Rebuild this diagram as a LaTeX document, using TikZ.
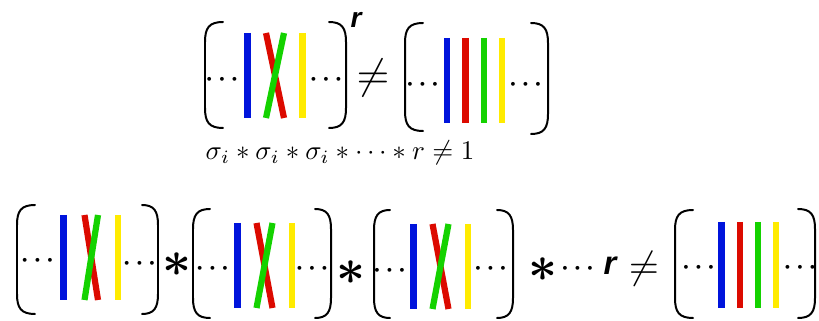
\documentclass[tikz,border=0pt]{standalone}
\usepackage{fontspec}
\newfontfamily\labelfont{Liberation Sans}
\definecolor{braidblue}{RGB}{0,20,220}
\definecolor{braidred}{RGB}{220,10,0}
\definecolor{braidgreen}{RGB}{20,210,0}
\definecolor{braidyellow}{RGB}{255,235,0}
\tikzset{
	paren/.style={line width=1.7pt, line cap=round},
	strand/.style={line width=5.3pt},
	dots/.style={inner sep=0pt, yshift=-2pt, scale=2.1, font=\boldmath},
	times/.style={inner sep=0pt, scale=4.3, font=\boldmath},
	noteq/.style={inner sep=0pt, scale=3.6},
	rlabel/.style={inner sep=0pt, font=\labelfont\bfseries\itshape\fontsize{24}{28}\selectfont}
}
\begin{document}
\begin{tikzpicture}[x=0.03cm, y=-0.03cm]
			\useasboundingbox (0, 0) rectangle (819, 321);
			\draw[paren] (223, 22) .. controls (209, 22) and (205, 28) .. (205, 42) -- (205, 108) .. controls (205, 122) and (209, 128) .. (223, 128);
			\draw[paren] (329, 22) .. controls (342, 22) and (346, 28) .. (346, 42) -- (346, 108) .. controls (346, 122) and (342, 128) .. (329, 128);
			\draw[strand, braidblue] (247.5, 33) -- (247.5, 118);
			\draw[strand, braidred] (266, 33) -- (284, 118);
			\draw[strand, braidgreen] (284, 33) -- (266, 118);
			\draw[strand, braidyellow] (302.5, 33) -- (302.5, 118);
			\node[dots] (D1) at (222, 77) {$\cdots$};
			\node[dots] (D2) at (326, 77) {$\cdots$};
			\node[rlabel] (R1) at (356, 20) {r};
			\node[noteq] (NE1) at (373, 78) {$\neq$};
			\draw[paren] (423, 23) .. controls (409, 23) and (405, 29) .. (405, 43) -- (405, 111) .. controls (405, 125) and (409, 131) .. (423, 131);
			\draw[paren] (531, 23) .. controls (544, 23) and (548, 29) .. (548, 43) -- (548, 114) .. controls (548, 128) and (544, 134) .. (531, 134);
			\draw[strand, braidblue] (447, 38) -- (447, 123);
			\draw[strand, braidred] (465.5, 38) -- (465.5, 123);
			\draw[strand, braidgreen] (484, 38) -- (484, 123);
			\draw[strand, braidyellow] (502, 38) -- (502, 123);
			\node[dots] (D3) at (422.5, 82) {$\cdots$};
			\node[dots] (D4) at (525.5, 82) {$\cdots$};
			\node[inner sep=0pt, scale=2.3] (F1) at (340, 153) {$\sigma_i \ast \sigma_i \ast \sigma_i \ast \cdots \ast r \neq 1$};
			\draw[paren] (35, 205) .. controls (21, 205) and (17, 211) .. (17, 225) -- (17, 294) .. controls (17, 308) and (21, 314) .. (35, 314);
			\draw[paren] (142, 205) .. controls (154, 205) and (158, 211) .. (158, 225) -- (158, 294) .. controls (158, 308) and (154, 314) .. (142, 314);
			\draw[strand, braidblue] (63.5, 215) -- (63.5, 300);
			\draw[strand, braidred] (84.5, 215) -- (98, 300);
			\draw[strand, braidgreen] (98, 215) -- (84.5, 300);
			\draw[strand, braidyellow] (118, 215) -- (118, 300);
			\node[dots] (D5) at (37.5, 258) {$\cdots$};
			\node[dots] (D6) at (139.5, 261) {$\cdots$};
			\node[times] (T1) at (177, 265) {$\ast$};
			\draw[paren] (210, 209) .. controls (197, 209) and (193, 215) .. (193, 229) -- (193, 298) .. controls (193, 312) and (197, 318) .. (210, 318);
			\draw[paren] (315, 209) .. controls (327, 209) and (331, 215) .. (331, 229) -- (331, 298) .. controls (331, 312) and (327, 318) .. (315, 318);
			\draw[strand, braidblue] (237.5, 223) -- (237.5, 308);
			\draw[strand, braidred] (256.5, 223) -- (272.5, 308);
			\draw[strand, braidgreen] (272.5, 223) -- (256.5, 308);
			\draw[strand, braidyellow] (292, 223) -- (292, 308);
			\node[dots] (D7) at (212.5, 266) {$\cdots$};
			\node[dots] (D8) at (312, 266) {$\cdots$};
			\node[times] (T2) at (351, 273) {$\ast$};
			\draw[paren] (390, 210) .. controls (378, 210) and (374, 216) .. (374, 230) -- (374, 298) .. controls (374, 312) and (378, 318) .. (390, 318);
			\draw[paren] (497, 210) .. controls (509, 210) and (513, 216) .. (513, 230) -- (513, 298) .. controls (513, 312) and (509, 318) .. (497, 318);
			\draw[strand, braidblue] (413.5, 224) -- (413.5, 309);
			\draw[strand, braidred] (432.5, 224) -- (448.5, 309);
			\draw[strand, braidgreen] (448.5, 224) -- (432.5, 309);
			\draw[strand, braidyellow] (468, 224) -- (468, 309);
			\node[dots] (D9) at (389.5, 268) {$\cdots$};
			\node[dots] (D10) at (490.5, 266) {$\cdots$};
			\node[times] (T3) at (543, 270) {$\ast$};
			\node[dots] (D11) at (577.5, 266) {$\cdots$};
			\node[rlabel, font=\labelfont\bfseries\itshape\fontsize{28}{32}\selectfont] (R2) at (610, 266) {r};
			\node[noteq, scale=0.92] (NE2) at (644, 269) {$\neq$};
			\draw[paren] (693, 210) .. controls (679, 210) and (675, 216) .. (675, 230) -- (675, 298) .. controls (675, 312) and (679, 318) .. (693, 318);
			\draw[paren] (798, 209) .. controls (811, 209) and (815, 215) .. (815, 229) -- (815, 298) .. controls (815, 312) and (811, 318) .. (798, 318);
			\draw[strand, braidblue] (721.5, 222) -- (721.5, 308);
			\draw[strand, braidred] (740, 222) -- (740, 308);
			\draw[strand, braidgreen] (758, 222) -- (758, 308);
			\draw[strand, braidyellow] (776, 222) -- (776, 308);
			\node[dots] (D12) at (698.5, 265) {$\cdots$};
			\node[dots] (D13) at (800, 265) {$\cdots$};
		\end{tikzpicture}
\end{document}
